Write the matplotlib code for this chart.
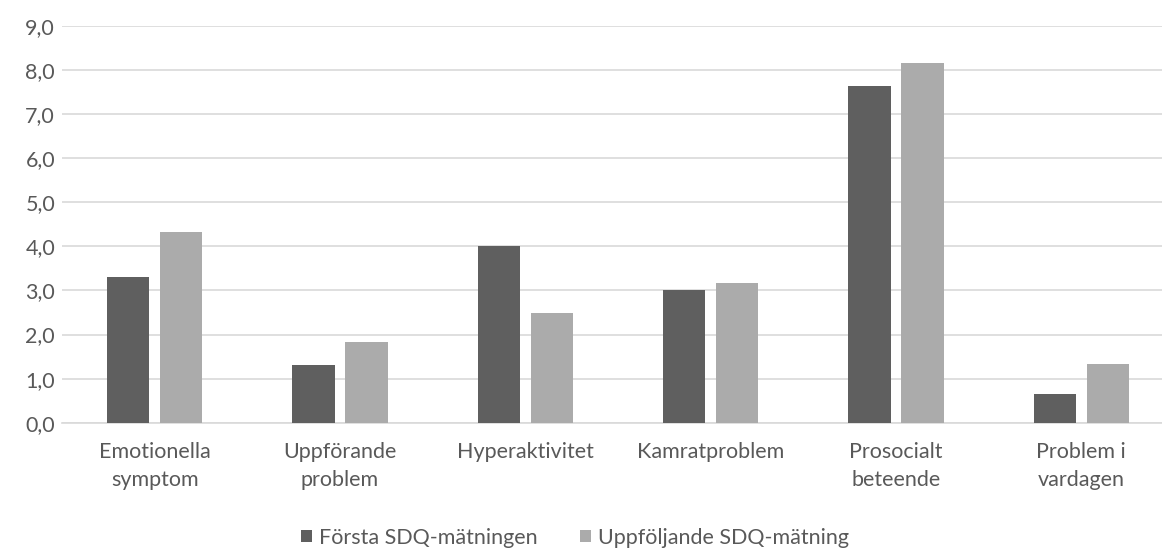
import matplotlib
matplotlib.use("Agg")
import matplotlib.pyplot as plt
import numpy as np

categories = ["Emotionella\nsymptom", "Uppförande\nproblem", "Hyperaktivitet",
              "Kamratproblem", "Prosocialt\nbeteende", "Problem i\nvardagen"]
forsta = [3.3, 1.3, 4.0, 3.0, 7.65, 0.65]
uppfoljande = [4.33, 1.83, 2.5, 3.17, 8.15, 1.33]
series_names = ["Första SDQ-mätningen", "Uppföljande SDQ-mätning"]
yticks = [0, 1, 2, 3, 4, 5, 6, 7, 8, 9]

plt.rcParams['font.family'] = ['Lato', 'DejaVu Sans']
txt = '#595959'

W, H = 1162, 549
fig = plt.figure(figsize=(W / 100, H / 100), dpi=100)
ax = fig.add_axes([62 / W, (H - 422.7) / H, (1174 - 62) / W, (422.7 - 26) / H])

x = np.arange(len(categories))
bw = 0.227
off = 0.143
ax.bar(x - off, forsta, bw, color='#5f5f5f', label=series_names[0], zorder=3)
ax.bar(x + off, uppfoljande, bw, color='#ababab', label=series_names[1], zorder=3)

ax.set_xlim(-0.5, len(categories) - 0.5)
ax.set_ylim(0, 9)
ax.set_yticks(yticks)
ax.set_yticklabels([f"{v:.1f}".replace('.', ',') for v in yticks])
ax.set_xticks(x)
ax.set_xticklabels(categories)
ax.yaxis.grid(True, color='#d9d9d9', lw=1.2, zorder=0)
ax.set_axisbelow(True)
for s in ['top', 'right', 'left']:
    ax.spines[s].set_visible(False)
ax.spines['bottom'].set_color('#d9d9d9')
ax.spines['bottom'].set_linewidth(1.2)
ax.tick_params(axis='both', length=0, colors=txt, labelsize=15.5)
ax.tick_params(axis='y', pad=5)
ax.tick_params(axis='x', pad=14)
for lab in ax.get_xticklabels():
    lab.set_linespacing(1.5)

leg = fig.legend(loc='center', bbox_to_anchor=(575 / W, 1 - 538 / H), ncol=2,
                 frameon=False, fontsize=15.5, handlelength=0.5, handleheight=0.5,
                 handletextpad=0.3, columnspacing=2.0)
for t in leg.get_texts():
    t.set_color(txt)

fig.savefig("out.png", dpi=100)
